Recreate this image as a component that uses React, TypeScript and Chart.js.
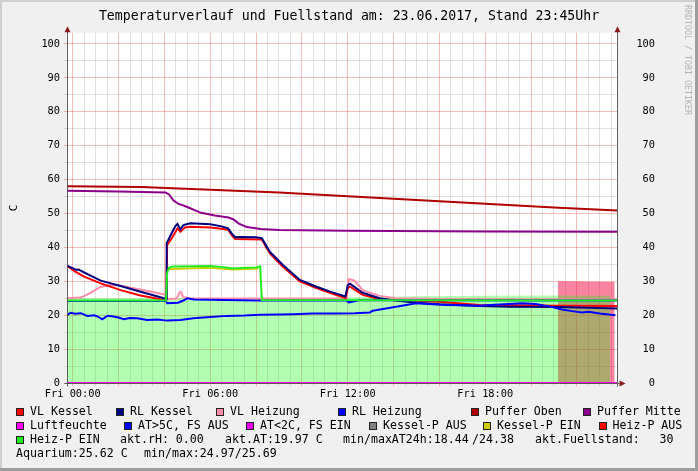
import React, { useEffect, useRef } from 'react';
import { Chart, registerables } from 'chart.js';
Chart.register(...registerables);

const FONT = "'DejaVu Sans Mono', monospace";

// ---- data (hours since Fri 00:00, value in C) ----
const xMin = -0.25;
const xMax = 23.75;
const yMax = 103.33;
const xGridHours = Array.from({ length: 48 }, (_, i) => i * 0.5);
const xTickHours = [0, 6, 12, 18];
const xTickLabels = ['Fri 00:00', 'Fri 06:00', 'Fri 12:00', 'Fri 18:00'];
const yGridValues = Array.from({ length: 21 }, (_, i) => i * 5);

const pufferOben: [number, number][] = [[-0.25, 58.0], [3, 57.8], [6, 57.0], [9, 56.2], [12, 55.1], [15, 54.0], [18, 52.9], [21, 51.8], [23.75, 50.9]];
const pufferMitte: [number, number][] = [[-0.25, 56.7], [2, 56.5], [4.05, 56.2], [4.2, 55.6], [4.4, 53.8], [4.6, 52.9], [5.0, 51.9], [5.6, 50.2], [6.2, 49.4], [6.8, 48.8], [7.0, 48.3], [7.25, 47.0], [7.6, 46.0], [8.2, 45.4], [9, 45.1], [12, 44.9], [18, 44.7], [23.75, 44.6]];
const rlKessel: [number, number][] = [[-0.25, 34.6], [0.13, 33.4], [0.25, 33.5], [0.5, 32.6], [0.78, 31.7], [1.22, 30.2], [2.09, 28.6], [2.96, 26.9], [3.83, 25.3], [4.07, 24.8], [4.1, 41.3], [4.17, 42.2], [4.35, 44.6], [4.48, 46.3], [4.57, 46.9], [4.7, 45.3], [4.83, 46.6], [5.13, 47.1], [6.0, 46.8], [6.5, 46.2], [6.78, 45.6], [6.95, 44.0], [7.09, 43.0], [7.3, 43.1], [8.0, 43.0], [8.25, 42.7], [8.6, 38.7], [9.17, 34.8], [9.91, 30.4], [10.64, 28.4], [11.3, 26.8], [11.9, 25.5], [12.0, 28.9], [12.1, 29.3], [12.65, 26.6], [13.39, 25.0], [14.1, 24.3], [15, 23.7], [16, 23.2], [17.74, 22.7], [19.04, 22.5], [21.2, 22.4], [22.5, 22.2], [23.75, 22.0]];
const vlKessel: [number, number][] = [[-0.25, 34.6], [0.13, 32.8], [0.5, 31.4], [1.22, 29.4], [2.09, 27.4], [2.96, 25.8], [3.83, 24.7], [4.08, 24.5], [4.12, 40.7], [4.35, 43.0], [4.57, 45.6], [4.7, 44.6], [4.9, 45.9], [5.13, 46.1], [6.0, 45.9], [6.5, 45.5], [6.78, 45.2], [6.95, 43.5], [7.09, 42.5], [8.25, 42.3], [8.6, 38.2], [9.17, 34.3], [9.91, 30.0], [10.64, 28.0], [11.3, 26.4], [11.9, 25.1], [12.0, 28.0], [12.1, 28.4], [12.65, 26.0], [13.39, 24.7], [14.1, 24.4], [16, 24.0], [17.74, 23.0], [19.04, 22.9], [21.2, 22.8], [23.75, 22.7]];
const vlHeizung: [number, number][] = [[-0.25, 25.0], [0.35, 25.2], [0.78, 26.6], [1.22, 28.4], [1.65, 28.9], [2.0, 28.8], [3.0, 27.5], [3.96, 26.2], [4.08, 25.9], [4.12, 24.8], [4.55, 24.9], [4.65, 26.6], [4.72, 26.9], [4.82, 25.4], [5.1, 25.0], [8, 24.9], [11.95, 24.9], [12.05, 30.7], [12.3, 30.2], [12.65, 27.4], [13.39, 25.7], [14.1, 25.0], [16, 24.8], [23.75, 24.6]];
const rlHeizung: [number, number][] = [[-0.25, 24.2], [4.07, 24.2], [4.12, 23.5], [4.6, 23.7], [4.85, 24.4], [5.0, 25.0], [5.3, 24.6], [8, 24.3], [11.95, 24.3], [12.05, 23.8], [12.5, 24.4], [16, 24.4], [23.75, 24.3]];
const aussenTemp: [number, number][] = [[-0.25, 20.1], [-0.09, 20.7], [0.1, 20.4], [0.35, 20.6], [0.64, 19.8], [0.93, 20.0], [1.1, 19.6], [1.29, 18.8], [1.51, 19.8], [1.78, 19.6], [2.0, 19.3], [2.23, 18.8], [2.5, 19.2], [2.81, 19.1], [3.25, 18.6], [3.7, 18.7], [4.12, 18.4], [4.7, 18.6], [5.26, 19.1], [6.0, 19.5], [6.73, 19.8], [7.5, 19.9], [8.17, 20.1], [9.0, 20.2], [9.61, 20.3], [10.48, 20.5], [11.51, 20.5], [12.3, 20.6], [12.96, 20.8], [13.09, 21.3], [13.8, 22.1], [14.55, 23.0], [14.99, 23.5], [15.5, 23.3], [16.29, 23.0], [17.0, 22.9], [17.74, 22.8], [18.4, 23.1], [19.04, 23.3], [19.6, 23.5], [20.2, 23.3], [20.8, 22.6], [21.35, 21.7], [21.8, 21.2], [22.22, 20.8], [22.52, 21.0], [23.0, 20.5], [23.68, 20.0]];
const heizPEin: [number, number][] = [[-0.25, 24.3], [4.07, 24.3], [4.12, 32.5], [4.2, 34.0], [4.35, 34.4], [6, 34.5], [6.5, 34.2], [7.0, 33.8], [7.5, 34.0], [8.0, 34.1], [8.18, 34.4], [8.25, 24.5], [23.75, 24.3]];
const kesselPEin: [number, number][] = [[4.2, 33.6], [6, 34.0], [7.0, 33.5], [8.1, 33.8]];
const luftfeuchte: [number, number][] = [[-0.25, 0], [23.75, 0]];
const aquarium: [number, number][] = [[-0.25, 25.0], [6, 25.0], [12, 25.2], [15, 25.6], [18, 25.7], [21, 25.8], [23.45, 25.7]];
const fuellstand: [number, number][] = [[21.17, 30.0], [22.4, 29.9], [23.65, 29.8]];

const TITLE = 'Temperaturverlauf und Fuellstand am: 23.06.2017, Stand 23:45Uhr';

type LegendItem = { x: number; text: string; color?: string };
const legendRows: LegendItem[][] = [
  [
    { x: 16, text: 'VL Kessel', color: '#FF0000' },
    { x: 116, text: 'RL Kessel', color: '#000080' },
    { x: 216, text: 'VL Heizung', color: '#FF8CA8' },
    { x: 338, text: 'RL Heizung', color: '#0000FF' },
    { x: 471, text: 'Puffer Oben', color: '#B00000' },
    { x: 583, text: 'Puffer Mitte', color: '#8B008B' },
  ],
  [
    { x: 16, text: 'Luftfeuchte', color: '#FF00FF' },
    { x: 124, text: 'AT>5C, FS AUS', color: '#0000FF' },
    { x: 246, text: 'AT<2C, FS EIN', color: '#EE00EE' },
    { x: 369, text: 'Kessel-P AUS', color: '#808080' },
    { x: 483, text: 'Kessel-P EIN', color: '#CCCC00' },
    { x: 598.5, text: 'Heiz-P AUS', color: '#FF0000' },
  ],
  [
    { x: 16, text: 'Heiz-P EIN', color: '#22EE22' },
    { x: 120, text: 'akt.rH: 0.00' },
    { x: 225, text: 'akt.AT:19.97 C' },
    { x: 343, text: 'min/maxAT24h:18.44' },
    { x: 472, text: '/24.38' },
    { x: 535, text: 'akt.Fuellstand:' },
    { x: 659.5, text: '30' },
  ],
  [
    { x: 16, text: 'Aquarium:25.62 C' },
    { x: 144, text: 'min/max:24.97/25.69' },
  ],
];

const toXY = (a: [number, number][]) => a.map(([x, y]) => ({ x, y }));

export default function App() {
  const ref = useRef<HTMLCanvasElement>(null);

  useEffect(() => {
    const canvas = ref.current!;
    const line = (label: string, data: [number, number][], color: string, order: number, width = 2) => ({
      label, data: toXY(data), borderColor: color, backgroundColor: color, borderWidth: width,
      pointRadius: 0, fill: false, order, tension: 0,
    });
    const area = (label: string, data: [number, number][], color: string, order: number) => ({
      label, data: toXY(data), borderColor: 'rgba(0,0,0,0)', backgroundColor: color, borderWidth: 0,
      pointRadius: 0, fill: 'origin', order, tension: 0,
    });

    const frame = {
      id: 'frame',
      beforeDraw(chart: any) {
        const { ctx, chartArea: a } = chart;
        ctx.save();
        ctx.fillStyle = '#FFFFFF';
        ctx.fillRect(a.left, a.top, a.right - a.left, a.bottom - a.top);
        ctx.restore();
      },
      afterDatasetsDraw(chart: any) {
        const { ctx, chartArea: a } = chart;
        const L = Math.round(a.left) + 0.5;
        const R = Math.round(a.right) + 0.5;
        const B = Math.round(a.bottom) + 0.5;
        ctx.save();
        ctx.strokeStyle = 'rgba(70,70,70,0.85)';
        ctx.lineWidth = 1;
        ctx.beginPath();
        ctx.moveTo(L, B + 3); ctx.lineTo(L, a.top - 4);
        ctx.moveTo(R, B + 3); ctx.lineTo(R, a.top - 4);
        ctx.moveTo(L - 3, B); ctx.lineTo(R + 2, B);
        ctx.stroke();
        ctx.fillStyle = '#8B1A1A';
        const tri = (p: number[][]) => {
          ctx.beginPath(); ctx.moveTo(p[0][0], p[0][1]); ctx.lineTo(p[1][0], p[1][1]); ctx.lineTo(p[2][0], p[2][1]); ctx.closePath(); ctx.fill();
        };
        tri([[L, a.top - 6.5], [L - 3, a.top - 0.5], [L + 3, a.top - 0.5]]);
        tri([[R, a.top - 6.5], [R - 3, a.top - 0.5], [R + 3, a.top - 0.5]]);
        tri([[R + 8, B], [R + 2, B - 3], [R + 2, B + 3]]);
        ctx.restore();
      },
    };

    const gridColorX = (c: any) => (Math.abs(c.tick.value % 2) < 1e-6 ? 'rgba(235,90,90,0.40)' : 'rgba(120,120,120,0.22)');
    const gridColorY = (c: any) => (Math.abs(c.tick.value % 10) < 1e-6 ? 'rgba(235,90,90,0.40)' : 'rgba(120,120,120,0.22)');
    const yLabel = (v: any) => (Math.abs(Number(v) % 10) < 1e-6 ? String(v) : '');
    const xLabel = (v: any) => {
      const i = xTickHours.indexOf(Number(v));
      return i >= 0 ? xTickLabels[i] : '';
    };

    const chart = new Chart(canvas, {
      type: 'line',
      data: {
        datasets: [
          line('Luftfeuchte', luftfeuchte, '#FF00FF', 0, 2),
          line('Heiz-P EIN', heizPEin, '#22EE22', 1, 2),
          line('Kessel-P EIN', kesselPEin, '#CCCC00', 2, 2),
          line('RL Heizung', rlHeizung, '#0000FF', 3, 2),
          line('AT', aussenTemp, '#0000FF', 4, 2),
          line('RL Kessel', rlKessel, '#000080', 5, 2),
          line('VL Kessel', vlKessel, '#FF0000', 6, 2),
          line('VL Heizung', vlHeizung, '#FF8CA8', 7, 2),
          line('Puffer Oben', pufferOben, '#B00000', 8, 2),
          line('Puffer Mitte', pufferMitte, '#8B008B', 9, 2),
          area('Aquarium', aquarium, 'rgba(0,255,0,0.30)', 20),
          area('Fuellstand', fuellstand, 'rgba(245,10,65,0.50)', 21),
        ] as any,
      },
      options: {
        responsive: false,
        animation: false,
        events: [],
        layout: { padding: { left: 0, right: 43, top: 32.7, bottom: 68 } },
        plugins: { legend: { display: false }, tooltip: { enabled: false }, title: { display: false } },
        scales: {
          x: {
            type: 'linear', min: xMin, max: xMax,
            afterBuildTicks: (s: any) => { s.ticks = xGridHours.map((v) => ({ value: v })); },
            afterFit: (s: any) => { s.height = 20; },
            ticks: { autoSkip: false, maxRotation: 0, minRotation: 0, padding: 2, color: '#000', font: { family: FONT, size: 10.3 }, callback: xLabel },
            grid: { color: gridColorX, tickColor: gridColorX, tickLength: 3, drawTicks: true },
            border: { display: false },
          },
          y: {
            type: 'linear', position: 'left', min: 0, max: yMax,
            afterBuildTicks: (s: any) => { s.ticks = yGridValues.map((v) => ({ value: v })); },
            afterFit: (s: any) => { s.width = 67; },
            ticks: { autoSkip: false, padding: 4, color: '#000', font: { family: FONT, size: 10.3 }, callback: yLabel },
            grid: { color: gridColorY, tickColor: gridColorY, tickLength: 3, drawTicks: true },
            border: { display: false },
            title: { display: true, text: 'C', color: '#000', font: { family: FONT, size: 11, lineHeight: 1.2 }, padding: { top: 7.4, bottom: 0 } },
          },
          y2: {
            type: 'linear', position: 'right', min: 0, max: yMax,
            afterBuildTicks: (s: any) => { s.ticks = yGridValues.map((v) => ({ value: v })); },
            afterFit: (s: any) => { s.width = 38; },
            ticks: { autoSkip: false, crossAlign: 'far', padding: 0, color: '#000', font: { family: FONT, size: 10.3 }, callback: yLabel },
            grid: { drawOnChartArea: false, drawTicks: false },
            border: { display: false },
          },
        },
      } as any,
      plugins: [frame],
    });
    return () => chart.destroy();
  }, []);

  return (
    <div style={{ position: 'fixed', left: 0, top: 0, width: 698, height: 471, background: '#F0F0F0', overflow: 'hidden', fontFamily: FONT, color: '#000' }}>
      <canvas ref={ref} width={698} height={471} style={{ position: 'absolute', left: 0, top: 0, width: 698, height: 471 }} />
      <div style={{ position: 'absolute', left: 0, top: 8, width: 698, textAlign: 'center', fontSize: 13.2, lineHeight: '16px', whiteSpace: 'pre' }}>{TITLE}</div>
      <div style={{ position: 'absolute', left: 683, top: 5, writingMode: 'vertical-rl', fontSize: 8.3, lineHeight: '10px', color: '#B4B4B4', whiteSpace: 'pre' }}>RRDTOOL / TOBI OETIKER</div>
      {legendRows.map((row, r) =>
        row.map((it, k) => (
          <React.Fragment key={`${r}-${k}`}>
            {it.color ? (
              <div style={{ position: 'absolute', left: it.x, top: 404.2 + r * 14 + 3.5, width: 6, height: 6, border: '1px solid #222', background: it.color }} />
            ) : null}
            <div style={{ position: 'absolute', left: it.color ? it.x + 14 : it.x, top: 404.2 + r * 14, fontSize: 11.6, lineHeight: '14px', whiteSpace: 'pre' }}>{it.text}</div>
          </React.Fragment>
        ))
      )}
      <div style={{ position: 'absolute', left: 0, top: 0, width: 2, height: 471, background: '#CFCFCF' }} />
      <div style={{ position: 'absolute', left: 0, top: 0, width: 698, height: 2, background: '#CFCFCF' }} />
      <div style={{ position: 'absolute', right: 0, top: 0, width: 3, height: 471, background: '#9E9E9E' }} />
      <div style={{ position: 'absolute', left: 0, bottom: 0, width: 698, height: 3, background: '#9E9E9E' }} />
    </div>
  );
}
